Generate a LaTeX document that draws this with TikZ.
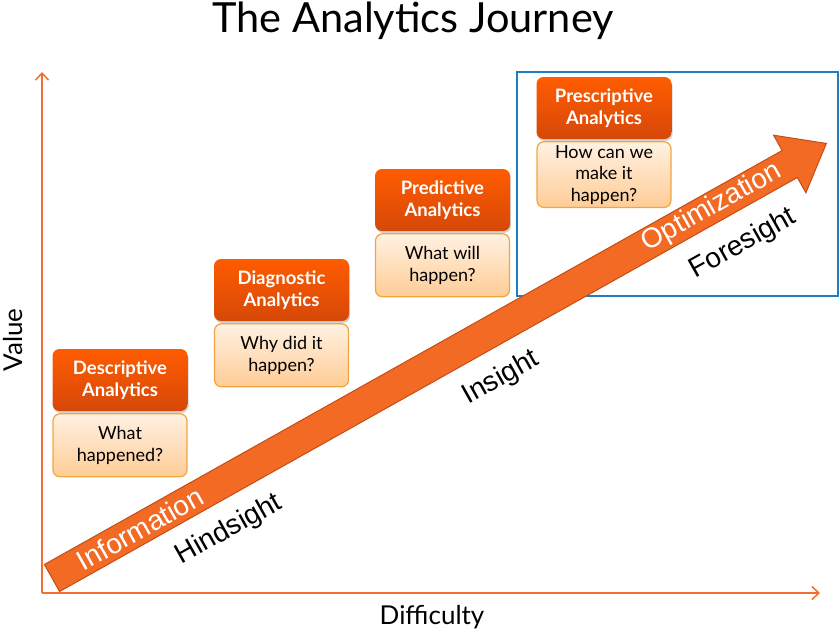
\documentclass[tikz,border=0pt]{standalone}
\usepackage{fontspec}
\newfontfamily\lato{Lato}
\newfontfamily\arial{Liberation Sans}
\usetikzlibrary{positioning,arrows.meta,shadows}
\definecolor{axisorange}{RGB}{240,112,52}
\definecolor{headtop}{RGB}{255,92,0}
\definecolor{headbot}{RGB}{214,72,8}
\definecolor{asktop}{RGB}{255,241,226}
\definecolor{askbot}{RGB}{255,204,150}
\definecolor{askline}{RGB}{240,166,62}
\definecolor{bigarrow}{RGB}{242,106,36}
\definecolor{bigedge}{RGB}{196,78,22}
\definecolor{frameblue}{RGB}{30,126,196}
\tikzset{
  head/.style={rectangle,rounded corners=7pt,top color=headtop,bottom color=headbot,draw=none,
    minimum width=135pt,minimum height=62pt,text=white,align=center,
    font=\lato\bfseries\fontsize{18.5}{21.5}\selectfont,
    drop shadow={opacity=0.35,shadow xshift=1pt,shadow yshift=-2pt}},
  ask/.style={rectangle,rounded corners=7pt,top color=asktop,bottom color=askbot,draw=askline,
    line width=1.2pt,minimum width=134pt,minimum height=63pt,text=black,align=center,
    font=\lato\fontsize{18}{21.5}\selectfont},
  axis/.style={draw=axisorange,line width=1.5pt,-{Straight Barb[length=7pt,width=13pt]}},
  stage/.style={font=\arial\fontsize{28}{30}\selectfont,inner sep=0pt},
}
\begin{document}
\begin{tikzpicture}[x=1pt,y=-1pt]
  \useasboundingbox (0,0) rectangle (840,634);
  % title and axes
  \node[anchor=base,inner sep=0pt,font=\lato\fontsize{41.5}{44}\selectfont] (title) at (413,33) {The Analytics Journey};
  \coordinate (o) at (42,593);
  \coordinate (ytop) at (42,72);
  \coordinate (xend) at (820,593);
  \draw[axis] (o) -- (ytop);
  \draw[axis] (o) -- (xend);
  \node[rotate=90,font=\lato\fontsize{26}{28}\selectfont] (val) at (13,340) {Value};
  \node[font=\lato\fontsize{26}{28}\selectfont] (diff) at (432,617) {Difficulty};
  % foresight frame
  \draw[frameblue,line width=2pt] (517,72) rectangle (838,296);
  % journey arrow
  \begin{scope}[shift={(52,578)},rotate=29.3]
    \filldraw[fill=bigarrow,draw=bigedge,line width=1pt,line join=miter]
      (0,-15.5) -- (846,-15.5) -- (846,-33) -- (888,0) -- (846,33) -- (846,15.5) -- (0,15.5) -- cycle;
    \node[stage,text=white,rotate=29.3] (info) at (101,0) {Information};
    \node[stage,text=white,rotate=29.3] (optim) at (757,0) {Optimization};
  \end{scope}
  \node[stage,rotate=29.3] (hind) at (229,530) {Hindsight};
  \node[stage,rotate=29.3] (ins) at (501,378) {Insight};
  \node[stage,rotate=29.3] (fore) at (743,244) {Foresight};
  % stages
  \node[head] (desc) at (120,380) {Descriptive\\Analytics};
  \node[ask,below=2pt of desc] (descq) {What\\happened?};
  \node[head] (diag) at (281.5,290) {Diagnostic\\Analytics};
  \node[ask,below=2pt of diag] (diagq) {Why did it\\happen?};
  \node[head] (pred) at (442.5,200) {Predictive\\Analytics};
  \node[ask,below=2pt of pred] (predq) {What will\\happen?};
  \node[head] (presc) at (604,108) {Prescriptive\\Analytics};
  \node[ask,below=2pt of presc] (prescq) {How can we\\make it\\happen?};
\end{tikzpicture}
\end{document}
